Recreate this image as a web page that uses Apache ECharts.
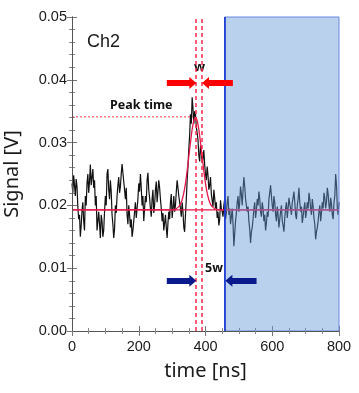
<!DOCTYPE html>
<html>
<head>
<meta charset="utf-8">
<script src="https://cdn.jsdelivr.net/npm/echarts@6/dist/echarts.min.js"></script>
<style>
  html, body { margin: 0; padding: 0; background: #fff; }
  #chart { width: 359px; height: 393px; }
</style>
</head>
<body>
<div id="chart"></div>
<script>
// sampled trace, one value every 2.5 ns from 0 to 800 ns
const sampleStep = 2.5;
const signal = [
  0.0235, 0.0220, 0.0248, 0.0232, 0.0215, 0.0242, 0.0230, 0.0198, 0.0178, 0.0185,
  0.0150, 0.0168, 0.0192, 0.0205, 0.0175, 0.0160, 0.0215, 0.0200, 0.0235, 0.0250,
  0.0220, 0.0238, 0.0265, 0.0232, 0.0245, 0.0258, 0.0228, 0.0240, 0.0200, 0.0215,
  0.0160, 0.0175, 0.0190, 0.0170, 0.0148, 0.0185, 0.0175, 0.0150, 0.0160, 0.0190,
  0.0215, 0.0200, 0.0250, 0.0258, 0.0225, 0.0210, 0.0240, 0.0222, 0.0185, 0.0170,
  0.0148, 0.0162, 0.0200, 0.0188, 0.0215, 0.0232, 0.0245, 0.0220, 0.0230, 0.0250,
  0.0266, 0.0252, 0.0238, 0.0225, 0.0210, 0.0228, 0.0185, 0.0170, 0.0200, 0.0185,
  0.0165, 0.0178, 0.0150, 0.0160, 0.0175, 0.0190, 0.0205, 0.0180, 0.0195, 0.0210,
  0.0235, 0.0222, 0.0250, 0.0228, 0.0200, 0.0215, 0.0175, 0.0195, 0.0215, 0.0205,
  0.0240, 0.0252, 0.0225, 0.0212, 0.0195, 0.0182, 0.0210, 0.0225, 0.0188, 0.0200,
  0.0225, 0.0238, 0.0205, 0.0222, 0.0240, 0.0228, 0.0210, 0.0195, 0.0175, 0.0188,
  0.0160, 0.0172, 0.0185, 0.0165, 0.0148, 0.0172, 0.0190, 0.0178, 0.0205, 0.0218,
  0.0180, 0.0195, 0.0215, 0.0190, 0.0200, 0.0222, 0.0240, 0.0228, 0.0215, 0.0205,
  0.0195, 0.0182, 0.0205, 0.0190, 0.0165, 0.0158, 0.0185, 0.0210, 0.0240, 0.0262,
  0.0290, 0.0312, 0.0345, 0.0330, 0.0372, 0.0355, 0.0330, 0.0350, 0.0345, 0.0325,
  0.0315, 0.0305, 0.0280, 0.0270, 0.0295, 0.0285, 0.0268, 0.0275, 0.0288, 0.0265,
  0.0250, 0.0240, 0.0262, 0.0248, 0.0225, 0.0232, 0.0245, 0.0218, 0.0208, 0.0198,
  0.0225, 0.0212, 0.0195, 0.0205, 0.0180, 0.0190, 0.0168, 0.0178, 0.0208, 0.0195,
  0.0190, 0.0182, 0.0200, 0.0210, 0.0178, 0.0188, 0.0205, 0.0215, 0.0185, 0.0195,
  0.0170, 0.0182, 0.0195, 0.0170, 0.0135, 0.0155, 0.0175, 0.0188, 0.0205, 0.0215,
  0.0190, 0.0205, 0.0230, 0.0218, 0.0200, 0.0225, 0.0245, 0.0230, 0.0210, 0.0200,
  0.0190, 0.0198, 0.0175, 0.0162, 0.0140, 0.0158, 0.0165, 0.0178, 0.0195, 0.0205,
  0.0180, 0.0192, 0.0210, 0.0200, 0.0222, 0.0210, 0.0190, 0.0182, 0.0205, 0.0195,
  0.0175, 0.0185, 0.0160, 0.0172, 0.0190, 0.0182, 0.0210, 0.0220, 0.0232, 0.0215,
  0.0200, 0.0190, 0.0215, 0.0205, 0.0185, 0.0175, 0.0198, 0.0185, 0.0165, 0.0178,
  0.0190, 0.0200, 0.0175, 0.0168, 0.0158, 0.0180, 0.0195, 0.0205, 0.0180, 0.0195,
  0.0212, 0.0202, 0.0195, 0.0185, 0.0205, 0.0212, 0.0222, 0.0205, 0.0185, 0.0178,
  0.0200, 0.0210, 0.0228, 0.0205, 0.0190, 0.0198, 0.0172, 0.0182, 0.0195, 0.0205,
  0.0180, 0.0190, 0.0205, 0.0195, 0.0220, 0.0210, 0.0195, 0.0185, 0.0210, 0.0198,
  0.0180, 0.0170, 0.0146, 0.0158, 0.0165, 0.0175, 0.0190, 0.0200, 0.0175, 0.0188,
  0.0205, 0.0195, 0.0220, 0.0212, 0.0195, 0.0205, 0.0228, 0.0218, 0.0200, 0.0190,
  0.0212, 0.0202, 0.0185, 0.0178, 0.0205, 0.0215, 0.0250, 0.0232, 0.0195, 0.0185,
  0.0205
];

// fitted pulse
const fitTimes  = [0, 300, 310, 320, 325, 330, 335, 340, 345, 350, 355, 360, 365, 370,
                   375, 380, 385, 390, 395, 400, 405, 410, 415, 420, 430, 440, 800];
const fitValues = [0.0193, 0.0193, 0.0194, 0.0198, 0.0202, 0.0209, 0.0220, 0.0235, 0.0255, 0.0278,
                   0.0300, 0.0321, 0.0335, 0.0340, 0.0335, 0.0321, 0.0300, 0.0278, 0.0255, 0.0235,
                   0.0220, 0.0209, 0.0202, 0.0198, 0.0194, 0.0193, 0.0193];

const baseline = 0.0193;
const peakTime = 368;
const peakValue = 0.0341;
const wEdges = [372, 390];
const windowStart = 457;
const timeMax = 800;

const redArrowY = 0.0395;
const redArrows = [[284, 372], [482, 390]];   // [tail, tip]
const blueArrowY = 0.0080;
const blueArrows = [[284, 372], [553, 460]];

const xLabels = [0, 200, 400, 600, 800];
const yLabels = ["0.00", "0.01", "0.02", "0.03", "0.04", "0.05"];

const headNs = 10; // half the arrow head, in ns

const chart = echarts.init(document.getElementById("chart"));

const signalData = signal.map((v, i) => [i * sampleStep, v]);
const fitData = fitTimes.map((t, i) => [t, fitValues[i]]);

const arrowLine = (pair, y, color) => {
  const dir = pair[1] > pair[0] ? 1 : -1;
  return [
    { coord: [pair[0], y], symbol: "none" },
    {
      coord: [pair[1] - dir * headNs, y],
      symbol: "triangle",
      itemStyle: { color },
      lineStyle: { color, width: 6, type: "solid", cap: "butt" },
    },
  ];
};

const tickFont = { fontFamily: "Liberation Sans", fontSize: 14.5, color: "#1a1a1a" };
const titleFont = { fontFamily: "Noto Sans", fontSize: 20, color: "#1a1a1a" };

const frameAxis = {
  axisLine: { show: true, lineStyle: { color: "#555", width: 1 } },
  axisTick: { show: true, inside: true, length: 5, lineStyle: { color: "#777" } },
  splitLine: { show: false },
};

chart.setOption({
  animation: false,
  backgroundColor: "#fff",
  grid: { left: 72, right: 20, top: 17, bottom: 62, outerBoundsMode: "none" },
  xAxis: [
    {
      type: "value",
      min: 0,
      max: timeMax,
      interval: 200,
      name: "time [ns]",
      nameLocation: "middle",
      nameGap: 30,
      nameTextStyle: titleFont,
      ...frameAxis,
      minorTick: { show: true, splitNumber: 4, length: 3, lineStyle: { color: "#888" } },
      axisLabel: { ...tickFont, margin: 8, formatter: (v) => (xLabels.includes(v) ? String(v) : "") },
    },
    {
      type: "value",
      position: "top",
      min: 0,
      max: timeMax,
      interval: 200,
      z: 10,
      ...frameAxis,
      minorTick: { show: true, splitNumber: 4, length: 3, lineStyle: { color: "#888" } },
      axisLabel: { show: false },
    },
  ],
  yAxis: [
    {
      type: "value",
      min: 0,
      max: 0.05,
      interval: 0.01,
      name: "Signal [V]",
      nameLocation: "middle",
      nameGap: 50,
      nameTextStyle: titleFont,
      ...frameAxis,
      minorTick: { show: true, splitNumber: 5, length: 3, lineStyle: { color: "#888" } },
      axisLabel: { ...tickFont, margin: 5, formatter: (v) => yLabels[Math.round(v * 100)] },
    },
    {
      type: "value",
      position: "right",
      min: 0,
      max: 0.05,
      interval: 0.01,
      z: 10,
      ...frameAxis,
      minorTick: { show: true, splitNumber: 5, length: 3, lineStyle: { color: "#888" } },
      axisLabel: { show: false },
    },
  ],
  series: [
    {
      name: "peak time",
      type: "line",
      data: [[0, peakValue], [peakTime, peakValue]],
      showSymbol: false,
      lineStyle: { color: "#ff3b4e", width: 1, type: [2, 2] },
      z: 2,
    },
    {
      name: "signal",
      type: "line",
      data: signalData,
      showSymbol: false,
      lineStyle: { color: "#111", width: 1.2 },
      z: 2,
    },
    {
      name: "fit",
      type: "line",
      data: fitData,
      showSymbol: false,
      smooth: 0.3,
      lineStyle: { color: "#e0194a", width: 1.3 },
      z: 2,
    },
    {
      name: "baseline",
      type: "line",
      data: [[0, baseline], [timeMax, baseline]],
      showSymbol: false,
      lineStyle: { color: "#e0194a", width: 1.2 },
      z: 2,
    },
    {
      name: "window",
      type: "line",
      data: [],
      markArea: {
        z: 3,
        silent: true,
        itemStyle: { color: "rgba(100,153,213,0.45)", borderColor: "#6a86e0", borderWidth: 1 },
        data: [[{ xAxis: windowStart }, { xAxis: timeMax }]],
      },
      markLine: {
        silent: true,
        symbol: "none",
        label: { show: false },
        lineStyle: { color: "#1533d0", width: 1.6, type: "solid" },
        data: [{ xAxis: windowStart }],
      },
    },
    {
      name: "marks",
      type: "line",
      data: [],
      markLine: {
        silent: true,
        symbol: "none",
        symbolSize: [12, 7],
        label: { show: false },
        lineStyle: { color: "#ff2a4a", width: 1.5, type: [4, 3], cap: "butt" },
        data: [
          { xAxis: wEdges[0] },
          { xAxis: wEdges[1] },
          ...redArrows.map((p) => arrowLine(p, redArrowY, "#ff0000")),
          ...blueArrows.map((p) => arrowLine(p, blueArrowY, "#0a1a8c")),
        ],
      },
    },
  ],
  graphic: [
    { type: "text", left: 87, top: 33, style: { text: "Ch2", font: "18px Liberation Sans", fill: "#1a1a1a" } },
    { type: "text", left: 110, top: 99, style: { text: "Peak time", font: "bold 12.5px Noto Sans", fill: "#111" } },
    { type: "text", left: 194, top: 61, style: { text: "w", font: "bold 13px Noto Sans", fill: "#111" } },
    { type: "text", left: 205, top: 262, style: { text: "5w", font: "bold 12.5px Noto Sans", fill: "#111" } },
  ],
});
</script>
</body>
</html>
